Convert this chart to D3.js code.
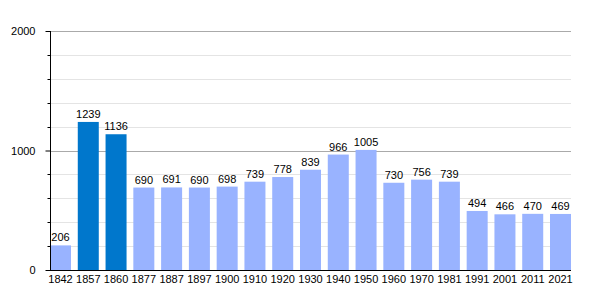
<!DOCTYPE html>
<html>
<head>
<meta charset="utf-8">
<script src="https://cdn.jsdelivr.net/npm/d3@7"></script>
<style>
  body { margin: 0; background: #fff; }
  text { font-family: "Liberation Sans", Arial, sans-serif; }
</style>
</head>
<body>
<div id="chart"></div>
<script>
// Data
var years = ["1842", "1857", "1860", "1877", "1887", "1897", "1900", "1910", "1920", "1930",
             "1940", "1950", "1960", "1970", "1981", "1991", "2001", "2011", "2021"];
var population = [206, 1239, 1136, 690, 691, 690, 698, 739, 778, 839,
                  966, 1005, 730, 756, 739, 494, 466, 470, 469];
var highlighted = ["1857", "1860"];
var yTicks = [0, 1000, 2000];

var width = 600, height = 300;
var plot_left = 50, plot_right = 571, plot_top = 31, plot_bottom = 270;

var svg = d3.select("#chart").append("svg")
    .attr("width", width)
    .attr("height", height);

var xScale = d3.scaleBand().domain(years).range([plot_left, plot_right]).paddingInner(0.244).paddingOuter(0);
var yScale = d3.scaleLinear().domain([0, 2000]).range([plot_bottom, plot_top]);

// minor gridlines every 200
var minor = d3.range(200, 2000, 200).filter(function (v) { return v % 1000 !== 0; });
svg.append("g").selectAll("line").data(minor).enter().append("line")
    .attr("x1", plot_left).attr("x2", plot_right)
    .attr("y1", function (v) { return Math.round(yScale(v)) + 0.5; })
    .attr("y2", function (v) { return Math.round(yScale(v)) + 0.5; })
    .attr("stroke", "#e4e4e4");

svg.append("g").selectAll("line").data([1000, 2000]).enter().append("line")
    .attr("x1", plot_left).attr("x2", plot_right)
    .attr("y1", function (v) { return Math.round(yScale(v)) + 0.5; })
    .attr("y2", function (v) { return Math.round(yScale(v)) + 0.5; })
    .attr("stroke", "#aaaaaa");

// bars
svg.append("g").selectAll("rect").data(population).enter().append("rect")
    .attr("x", function (d, i) { return xScale(years[i]); })
    .attr("y", function (d) { return yScale(d); })
    .attr("width", xScale.bandwidth())
    .attr("height", function (d) { return plot_bottom - yScale(d); })
    .attr("fill", function (d, i) { return highlighted.indexOf(years[i]) >= 0 ? "#0077cc" : "#99b3ff"; });

// value labels
svg.append("g").selectAll("text").data(population).enter().append("text")
    .attr("x", function (d, i) { return xScale(years[i]) + xScale.bandwidth() / 2; })
    .attr("y", function (d) { return yScale(d) - 4; })
    .attr("text-anchor", "middle")
    .attr("font-size", 11)
    .attr("fill", "#000")
    .text(function (d) { return d; });

// left axis
var yAxis = d3.axisLeft(yScale).tickValues(yTicks).tickSize(5).tickPadding(10).tickFormat(d3.format("d"));
var yg = svg.append("g").attr("transform", "translate(" + (plot_left + 0.5) + ",0)").call(yAxis);
yg.select(".domain").remove();
yg.selectAll("text").attr("font-size", 11);
yg.append("line").attr("y1", plot_top).attr("y2", plot_bottom).attr("stroke", "#000");
yg.selectAll("line.minor").data(minor).enter().append("line")
    .attr("class", "minor")
    .attr("x1", -3).attr("x2", 0)
    .attr("y1", function (v) { return Math.round(yScale(v)) + 0.5; })
    .attr("y2", function (v) { return Math.round(yScale(v)) + 0.5; })
    .attr("stroke", "#000");

// bottom axis
var xAxis = d3.axisBottom(xScale).tickSize(0).tickPadding(5);
var xg = svg.append("g").attr("transform", "translate(0," + (plot_bottom + 0.5) + ")").call(xAxis);
xg.select(".domain").attr("d", "M" + plot_left + ",0H" + plot_right).attr("stroke", "#000");
xg.selectAll("text").attr("font-size", 11);
</script>
</body>
</html>
